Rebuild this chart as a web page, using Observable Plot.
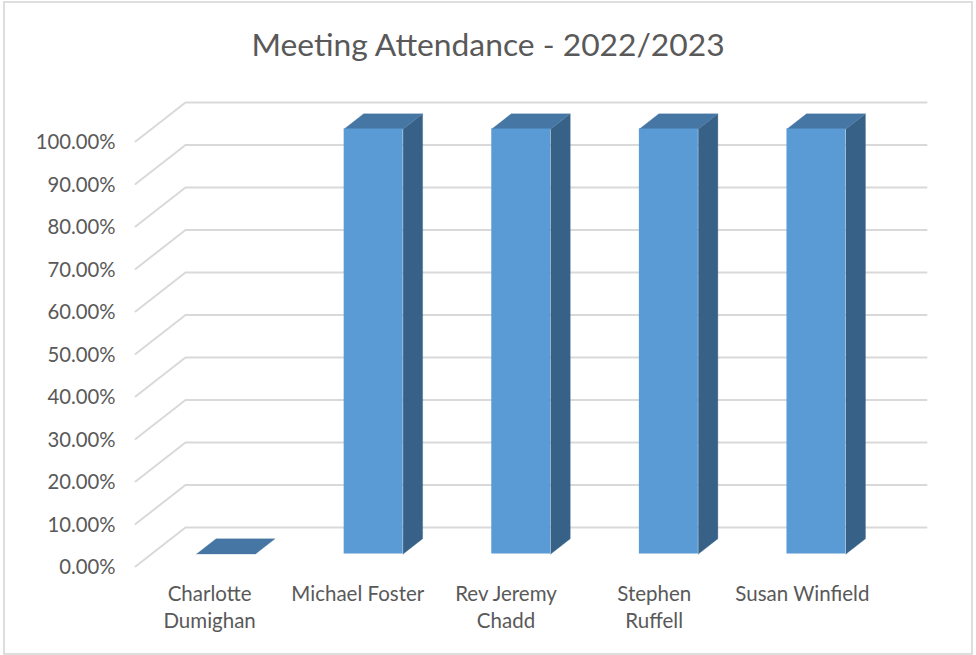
<!DOCTYPE html>
<html>
<head>
<meta charset="utf-8">
<script src="https://cdn.jsdelivr.net/npm/d3@7"></script>
<script src="https://cdn.jsdelivr.net/npm/@observablehq/plot@0.6"></script>
<style>
  html, body { margin: 0; padding: 0; background: #fff; }
  #chart { position: relative; width: 976px; height: 655px; overflow: hidden; font-family: Lato, sans-serif; }
  #frame { position: absolute; left: 3px; top: 1px; width: 970px; height: 654px; border: 2px solid #dedede; box-sizing: border-box; pointer-events: none; }
  h1 { position: absolute; left: 0; right: 0; top: 22px; margin: 0; width: 976px; text-align: center; font: 400 31.8px/44px Lato, sans-serif; color: #595959; }
  #plot { position: absolute; left: 0; top: 0; }
  svg { display: block; }
</style>
</head>
<body>
<div id="chart">
  <div id="plot"></div>
  <div id="frame"></div>
  <h1>Meeting Attendance - 2022/2023</h1>
</div>
<script>
const names = ["Charlotte Dumighan", "Michael Foster", "Rev Jeremy Chadd", "Stephen Ruffell", "Susan Winfield"];
const labelLine1 = ["Charlotte", "Michael Foster", "Rev Jeremy", "Stephen", "Susan Winfield"];
const labelLine2 = ["Dumighan", "", "Chadd", "Ruffell", ""];
const attendance = [0, 1, 1, 1, 1];
const yTicks = [0, 0.1, 0.2, 0.3, 0.4, 0.5, 0.6, 0.7, 0.8, 0.9, 1];

// Oblique projection: depth 0 = back wall, depth 1 = front edge of the floor
const skewX = 50 / 148.2, skewY = 39 / 425;
const barFront = 0.68, barBack = 0.29, barWidth = 0.398, barStep = 0.996, barStart = 0.503;
const px = (cat, depth) => cat - skewX * depth;
const py = (val, depth) => val - skewY * depth;

const grid = yTicks.flatMap((t) => [
  {t, x: px(0, 1), y: py(t, 1)},
  {t, x: px(0, 0), y: py(t, 0)},
  {t, x: px(5, 0), y: py(t, 0)}
]);
const bars = names.map((name, i) => ({
  name, v: attendance[i],
  c: i + 0.5,
  l: barStart + i * barStep - barWidth / 2,
  r: barStart + i * barStep + barWidth / 2
}));
const topFaces = bars.flatMap((b) => [
  {k: b.name, x: px(b.l, barFront), y: py(b.v, barFront)},
  {k: b.name, x: px(b.r, barFront), y: py(b.v, barFront)},
  {k: b.name, x: px(b.r, barBack), y: py(b.v, barBack)},
  {k: b.name, x: px(b.l, barBack), y: py(b.v, barBack)},
  {k: b.name, x: px(b.l, barFront), y: py(b.v, barFront)}
]);
const sideFaces = bars.filter((b) => b.v > 0).flatMap((b) => [
  {k: b.name, x: px(b.r, barFront), y: py(0, barFront)},
  {k: b.name, x: px(b.r, barBack), y: py(0, barBack)},
  {k: b.name, x: px(b.r, barBack), y: py(b.v, barBack)},
  {k: b.name, x: px(b.r, barFront), y: py(b.v, barFront)},
  {k: b.name, x: px(b.r, barFront), y: py(0, barFront)}
]);
const fontFamily = "Lato, sans-serif";
const chart = Plot.plot({
  width: 976, height: 655,
  margin: 0,
  style: {background: "transparent", fontFamily},
  x: {type: "linear", domain: [0, 5], range: [185, 926], axis: null},
  y: {type: "linear", domain: [0, 1], range: [527, 102], axis: null},
  marks: [
    Plot.line(grid, {x: "x", y: "y", z: "t", stroke: "#d9d9d9", strokeWidth: 2, curve: "linear"}),
    Plot.line(sideFaces, {x: "x", y: "y", z: "k", fill: "#376186", stroke: "#376186", strokeWidth: 0.3}),
    Plot.line(topFaces, {x: "x", y: "y", z: "k", fill: "#4676a4", stroke: "#4676a4", strokeWidth: 0.3}),
    Plot.rect(bars, {
      x1: (b) => px(b.l, barFront), x2: (b) => px(b.r, barFront),
      y1: py(0, barFront), y2: (b) => py(b.v, barFront),
      fill: "#5b9bd5"
    }),
    Plot.text(yTicks, {
      x: px(0, 1), y: (t) => py(t, 1), dx: -20, dy: 1,
      text: (t) => d3.format(".2%")(t),
      textAnchor: "end", fontSize: 20.3, fill: "#595959"
    }),
    Plot.text(bars, {
      x: (b) => px(b.c, 1), y: py(0, 1), dy: 28,
      text: (b, i) => labelLine1[i], fontSize: 20.5, fill: "#595959"
    }),
    Plot.text(bars, {
      x: (b) => px(b.c, 1), y: py(0, 1), dy: 55,
      text: (b, i) => labelLine2[i], fontSize: 20.5, fill: "#595959"
    })
  ]
});
document.getElementById("plot").appendChild(chart);
</script>
</body>
</html>
